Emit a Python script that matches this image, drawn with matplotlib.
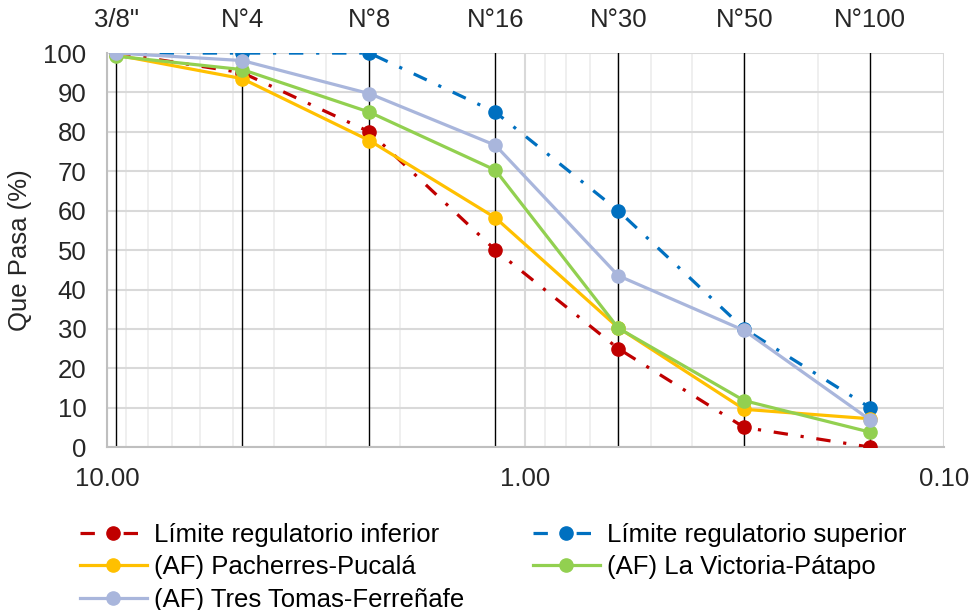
import numpy as np
import matplotlib.pyplot as plt
from matplotlib.ticker import FixedLocator, FixedFormatter, LogLocator, NullFormatter

plt.rcParams['font.family'] = ['Liberation Sans', 'DejaVu Sans']

# sieve openings (mm) and names
sieve_mm = [9.5, 4.75, 2.36, 1.18, 0.6, 0.3, 0.15]
sieve_names = ['3/8"', 'N°4', 'N°8', 'N°16', 'N°30', 'N°50', 'N°100']

# % passing
lim_inf = [100, 95, 80, 50, 25, 5, 0]
lim_sup = [100, 100, 100, 85, 60, 30, 10]
pacherres = [99.5, 93.5, 77.8, 58.2, 30.3, 9.6, 7.2]
victoria = [99.2, 95.8, 85.0, 70.3, 30.2, 11.8, 3.8]
tres_tomas = [100, 98.1, 89.7, 76.6, 43.5, 29.6, 6.9]

fs = 18.5
txt = '#262626'

fig = plt.figure(figsize=(9.74, 6.10), dpi=100)
ax = fig.add_axes([0.110, 0.267, 0.859, 0.646])

ax.set_xscale('log')
ax.set_xlim(10, 0.1)
ax.set_ylim(0, 100)

# grid
ax.xaxis.set_major_locator(FixedLocator([10, 1, 0.1]))
ax.xaxis.set_major_formatter(FixedFormatter(['10.00', '1.00', '0.10']))
ax.xaxis.set_minor_locator(LogLocator(base=10, subs=np.arange(2, 10)))
ax.xaxis.set_minor_formatter(NullFormatter())
ax.set_yticks(np.arange(0, 101, 10))
ax.grid(which='major', color='#d9d9d9', lw=1.5, zorder=0)
ax.grid(which='minor', axis='x', color='#ececec', lw=1.2, zorder=0)
ax.set_axisbelow(True)

for s in ['top', 'right']:
    ax.spines[s].set_visible(False)
for s in ['left', 'bottom']:
    ax.spines[s].set_color('#bfbfbf')
    ax.spines[s].set_linewidth(1.5)

ax.tick_params(axis='both', which='both', length=0, labelsize=fs, colors=txt)
ax.tick_params(axis='x', pad=14)
ax.tick_params(axis='y', pad=15)

for s in sieve_mm:
    ax.axvline(s, color='black', lw=1, zorder=1)

# top sieve labels
top = ax.secondary_xaxis('top')
top.set_xticks(sieve_mm)
top.set_xticklabels(sieve_names)
top.tick_params(length=0, labelsize=fs, pad=15, colors=txt)
top.spines['top'].set_visible(False)
top.xaxis.set_minor_locator(FixedLocator([]))

lw = 2.3
ms = 9.5
dd = (0, (4.5, 4, 1, 4))
h1, = ax.plot(sieve_mm, lim_inf, color='#c00000', ls=dd, lw=lw,
              marker='o', ms=ms, label='Límite regulatorio inferior', zorder=3)
h2, = ax.plot(sieve_mm, lim_sup, color='#0070c0', ls=dd, lw=lw,
              marker='o', ms=ms, label='Límite regulatorio superior', zorder=3)
h3, = ax.plot(sieve_mm, pacherres, color='#ffc000', lw=lw, marker='o', ms=ms,
              label='(AF) Pacherres-Pucalá', zorder=4)
h4, = ax.plot(sieve_mm, victoria, color='#92d050', lw=lw, marker='o', ms=ms,
              label='(AF) La Victoria-Pátapo', zorder=5)
h5, = ax.plot(sieve_mm, tres_tomas, color='#a9b6dc', lw=lw, marker='o', ms=ms,
              label='(AF) Tres Tomas-Ferreñafe', zorder=6)

ax.set_ylabel('Que Pasa (%)', fontsize=fs, color=txt, labelpad=8)

handles = [h1, h3, h5, h2, h4]
fig.legend(handles, [h.get_label() for h in handles], ncol=2,
           loc='upper left', bbox_to_anchor=(0.082, 0.143), frameon=False,
           fontsize=fs, handlelength=2.6, handletextpad=0.3,
           columnspacing=2.65, labelspacing=0.33, borderpad=0, borderaxespad=0)

fig.savefig('out.png', dpi=100)
